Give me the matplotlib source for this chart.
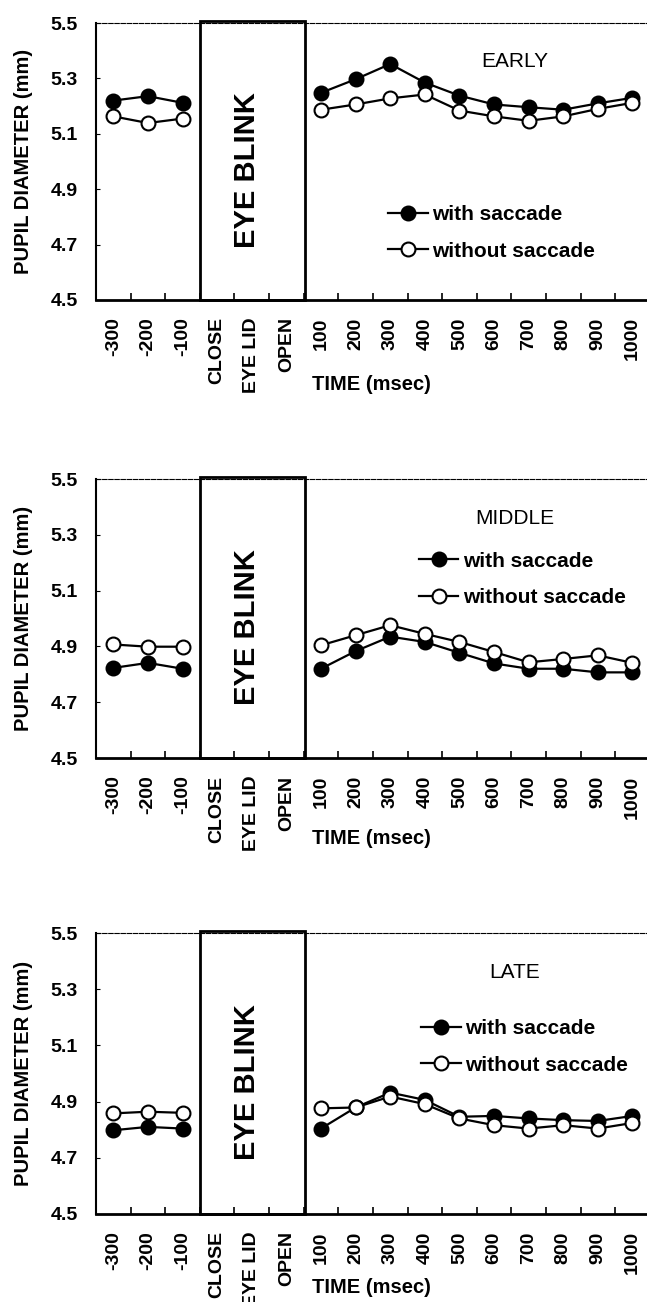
import numpy as np
import matplotlib.pyplot as plt
from matplotlib.patches import Rectangle

plt.rcParams['font.family'] = ['Liberation Sans', 'DejaVu Sans']

# category labels on the x axis
xlabels = ['-300', '-200', '-100', 'CLOSE', 'EYE LID', 'OPEN',
           '100', '200', '300', '400', '500', '600', '700', '800', '900', '1000']
pre_idx = [0, 1, 2]
post_idx = list(range(6, 16))

titles = ['EARLY', 'MIDDLE', 'LATE']

# with saccade (filled) / without saccade (open), before and after blink
early_with_pre = [5.22, 5.236, 5.212]
early_with_post = [5.248, 5.297, 5.352, 5.285, 5.238, 5.206, 5.196, 5.187, 5.21, 5.23]
early_without_pre = [5.163, 5.139, 5.155]
early_without_post = [5.187, 5.206, 5.228, 5.242, 5.184, 5.163, 5.147, 5.163, 5.19, 5.212]

middle_with_pre = [4.823, 4.841, 4.82]
middle_with_post = [4.82, 4.883, 4.935, 4.916, 4.877, 4.839, 4.82, 4.82, 4.807, 4.807]
middle_without_pre = [4.907, 4.899, 4.899]
middle_without_post = [4.904, 4.94, 4.976, 4.945, 4.916, 4.88, 4.843, 4.855, 4.868, 4.841]

late_with_pre = [4.798, 4.81, 4.804]
late_with_post = [4.804, 4.879, 4.932, 4.906, 4.846, 4.849, 4.84, 4.834, 4.831, 4.849]
late_without_pre = [4.858, 4.864, 4.86]
late_without_post = [4.876, 4.879, 4.918, 4.891, 4.84, 4.816, 4.804, 4.816, 4.804, 4.824]

panels = [
    (early_with_pre, early_with_post, early_without_pre, early_without_post),
    (middle_with_pre, middle_with_post, middle_without_pre, middle_without_post),
    (late_with_pre, late_with_post, late_without_pre, late_without_post),
]

# axes rectangles (figure fraction), legend anchors, x-label offsets
rects = [[0.1484, 0.7696, 0.8516, 0.2127],
         [0.1484, 0.4178, 0.8516, 0.2143],
         [0.1484, 0.0676, 0.8516, 0.2158]]
leg_pos = [(0.53, 0.243), (0.586, 0.64), (0.59, 0.595)]
time_y = [-0.307, -0.29, -0.262]

fig = plt.figure(figsize=(6.47, 13.02), dpi=100)

for i in range(3):
    ax = fig.add_axes(rects[i])
    w_pre, w_post, wo_pre, wo_post = panels[i]
    kw_f = dict(color='black', lw=1.6, marker='o', ms=10, mfc='black', mec='black', mew=1.5)
    kw_o = dict(color='black', lw=1.6, marker='o', ms=10, mfc='white', mec='black', mew=1.5)
    ax.plot(pre_idx, w_pre, **kw_f, zorder=3)
    l1, = ax.plot(post_idx, w_post, **kw_f, zorder=3)
    ax.plot(pre_idx, wo_pre, **kw_o, zorder=4)
    l2, = ax.plot(post_idx, wo_post, **kw_o, zorder=4)

    ax.set_xlim(-0.5, 15.42)
    ax.set_ylim(4.5, 5.5)

    # eye blink box
    ax.add_patch(Rectangle((2.5, 4.5), 3.05, 1.008, fill=False, lw=2,
                           ec='black', clip_on=False, zorder=5))
    ax.text(3.85, 4.97, 'EYE BLINK', rotation=90, fontsize=21, fontweight='bold',
            ha='center', va='center')

    ax.text(11.6, 5.36, titles[i], fontsize=15, ha='center', va='center')

    ax.set_xticks(range(16))
    ax.set_xticklabels(xlabels, rotation=90, fontsize=14, fontweight='bold')
    ax.set_xticks(np.arange(0.5, 15.5, 1), minor=True)
    ax.tick_params(axis='x', which='major', length=0, pad=12.5)
    ax.tick_params(axis='x', which='minor', direction='in', length=5, width=1.2)
    ax.set_yticks([4.5, 4.7, 4.9, 5.1, 5.3, 5.5])
    ax.set_yticklabels(['4.5', '4.7', '4.9', '5.1', '5.3', '5.5'], fontsize=14,
                       fontweight='bold')
    ax.tick_params(axis='y', direction='in', length=3, pad=13)

    ax.spines['right'].set_visible(False)
    ax.spines['top'].set_linewidth(0.8)
    ax.spines['top'].set_linestyle((0, (4, 1.5)))
    ax.spines['left'].set_linewidth(1.5)
    ax.spines['bottom'].set_linewidth(2)

    ax.text(-0.1325, 0.5, 'PUPIL DIAMETER (mm)', rotation=90, fontsize=14.5,
            fontweight='bold', ha='center', va='center', transform=ax.transAxes)
    ax.text(0.5, time_y[i], 'TIME (msec)', fontsize=14.5, fontweight='bold',
            ha='center', va='center', transform=ax.transAxes)

    ax.legend([l1, l2], ['with saccade', 'without saccade'], loc='center left',
              bbox_to_anchor=leg_pos[i], frameon=False,
              prop={'size': 15, 'weight': 'bold'},
              handlelength=1.9, handletextpad=0.2, labelspacing=0.85,
              borderpad=0, borderaxespad=0)

plt.savefig('out.png', dpi=100)
